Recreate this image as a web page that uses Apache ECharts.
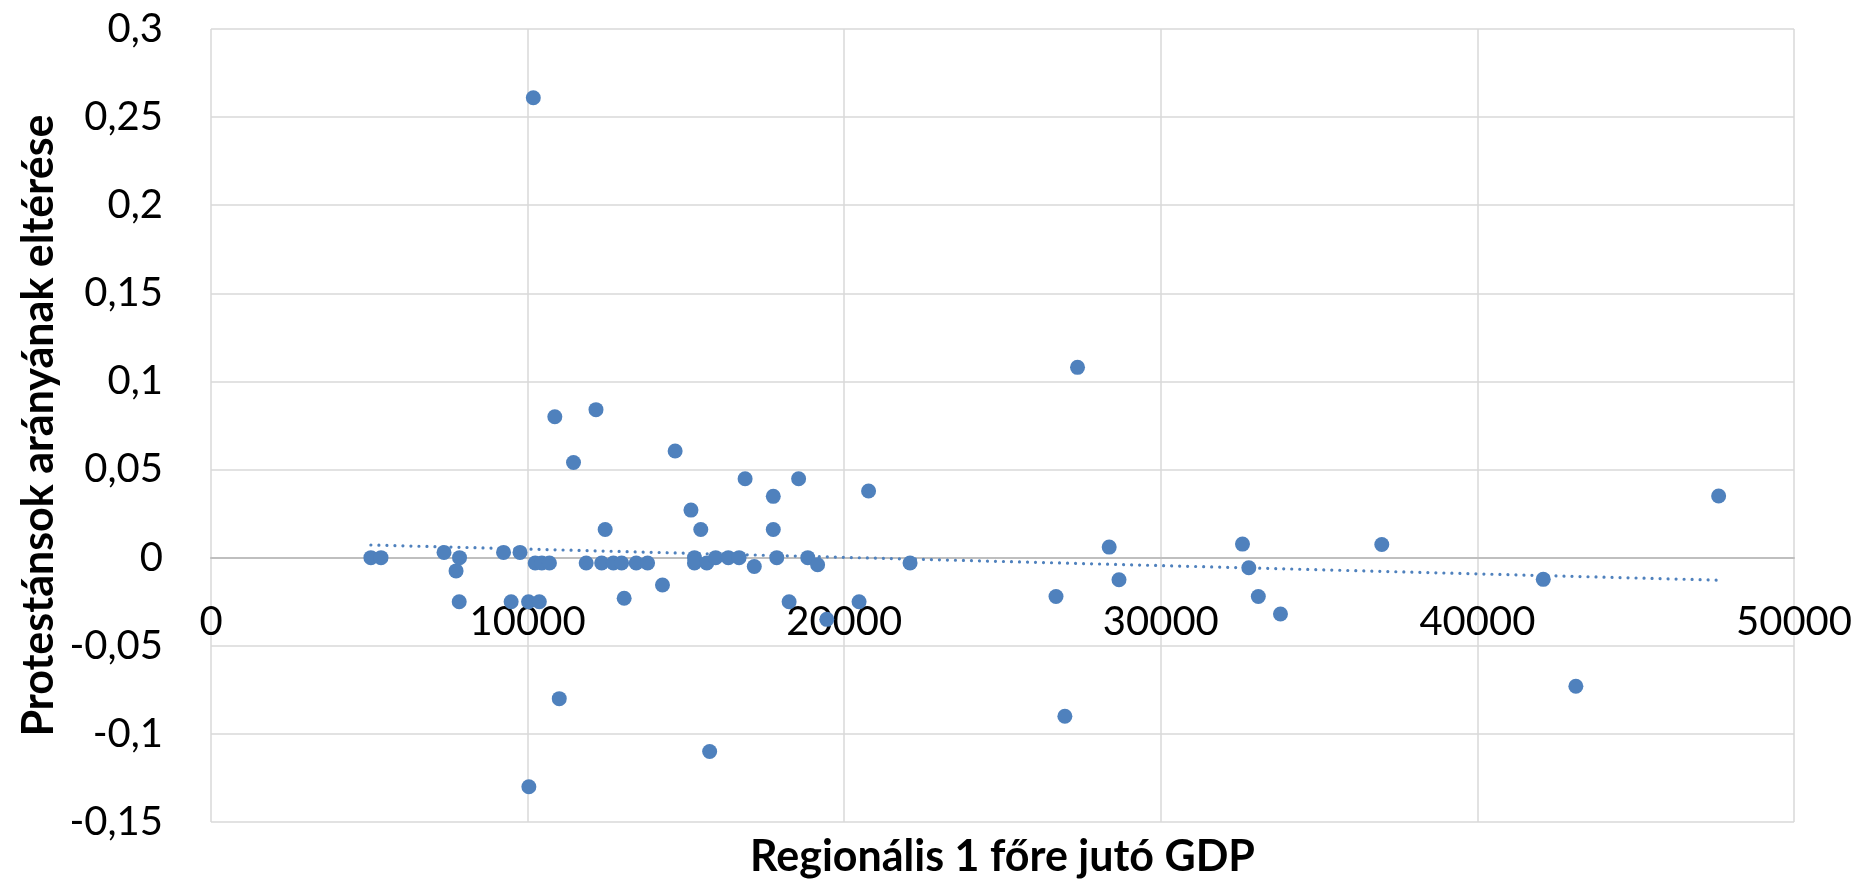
<!DOCTYPE html>
<html>
<head>
<meta charset="utf-8">
<script src="https://cdn.jsdelivr.net/npm/echarts@6/dist/echarts.min.js"></script>
<style>
html,body{margin:0;padding:0;background:#fff;}
#chart{width:1860px;height:880px;}
</style>
</head>
<body>
<div id="chart"></div>
<script>
// Regionális 1 főre jutó GDP (x)
const gdp = [
  5050, 5370, 7360, 7740, 7850, 7840, 9240, 9480, 9760, 10030,
  10040, 10180, 10240, 10370, 10450, 10690, 10860, 11000, 11450, 11850,
  12160, 12340, 12450, 12710, 12970, 13050, 13430, 13790, 14260, 14660,
  15160, 15270, 15270, 15470, 15660, 15750, 15940, 16340, 16680, 16870,
  17160, 17760, 17760, 17870, 18260, 18560, 18850, 19160, 19450, 20470,
  20770, 22080, 26690, 26970, 27370, 28370, 28680, 32580, 32780, 33080,
  33780, 36980, 42080, 43110, 47620
];
// Protestánsok arányának eltérése (y)
const diff = [
  0, 0, 0.003, -0.0075, 0, -0.025, 0.003, -0.025, 0.003, -0.025,
  -0.130, 0.261, -0.003, -0.025, -0.003, -0.003, 0.080, -0.080, 0.054, -0.003,
  0.084, -0.003, 0.016, -0.003, -0.003, -0.023, -0.003, -0.003, -0.0155, 0.0605,
  0.027, 0, -0.003, 0.016, -0.003, -0.110, 0, 0, 0, 0.0448,
  -0.005, 0.0348, 0.016, 0, -0.025, 0.0448, 0, -0.004, -0.035, -0.025,
  0.0378, -0.003, -0.022, -0.090, 0.108, 0.006, -0.0125, 0.0077, -0.0057, -0.022,
  -0.032, 0.0075, -0.0123, -0.073, 0.035
];
const xAxisRange = [0, 50000];
const xStep = 10000;
const yAxisRange = [-0.15, 0.3];
const yStep = 0.05;
const xTitle = 'Regionális 1 főre jutó GDP';
const yTitle = 'Protestánsok arányának eltérése';

const points = gdp.map((x, i) => [x, diff[i]]);

// linear trend line (least squares) over the data
const n = gdp.length;
const mx = gdp.reduce((a, b) => a + b, 0) / n;
const my = diff.reduce((a, b) => a + b, 0) / n;
let sxy = 0, sxx = 0;
for (let i = 0; i < n; i++) { sxy += (gdp[i] - mx) * (diff[i] - my); sxx += (gdp[i] - mx) * (gdp[i] - mx); }
const slope = sxy / sxx;
const icpt = my - slope * mx;
const xMin = Math.min(...gdp), xMax = Math.max(...gdp);
const trend = [[xMin, icpt + slope * xMin], [xMax, icpt + slope * xMax]];

const blue = '#4f81bd';
const fontFam = 'Lato, "Open Sans", sans-serif';

const W = 1860, H = 880;
const G = {left: 211, right: 66, top: 29, bottom: 58};
const plotH = H - G.top - G.bottom;
// move the category axis (line + labels) up to the y = 0 crossing, as in the source
const zeroOffset = -plotH * (0 - yAxisRange[0]) / (yAxisRange[1] - yAxisRange[0]);

const chart = echarts.init(document.getElementById('chart'), null, {renderer: 'canvas'});
chart.setOption({
  animation: false,
  backgroundColor: '#ffffff',
  grid: Object.assign({containLabel: false, outerBoundsMode: 'none'}, G),
  xAxis: {
    type: 'value',
    position: 'bottom',
    offset: zeroOffset,
    min: xAxisRange[0], max: xAxisRange[1], interval: xStep,
    axisLine: {show: true, onZero: false, lineStyle: {color: '#bfbfbf', width: 2}},
    axisTick: {show: false},
    axisLabel: {color: '#000', fontSize: 40, fontFamily: fontFam, margin: 44,
      formatter: v => String(v)},
    splitLine: {show: true, lineStyle: {color: '#d9d9d9', width: 1.5}}
  },
  yAxis: {
    type: 'value',
    min: yAxisRange[0], max: yAxisRange[1], interval: yStep,
    axisLine: {show: false},
    axisTick: {show: false},
    axisLabel: {
      color: '#000', fontSize: 40, fontFamily: fontFam, margin: 48,
      formatter: v => {
        const r = Math.round(v * 100) / 100;
        return r === 0 ? '0' : String(r).replace('.', ',');
      }
    },
    splitLine: {show: true, lineStyle: {color: '#d9d9d9', width: 1.5}}
  },
  graphic: [
    {
      type: 'text', x: (G.left + W - G.right) / 2, y: 857, silent: true,
      style: {text: xTitle, fill: '#000', font: 'bold 43px ' + fontFam, align: 'center', verticalAlign: 'middle'}
    },
    {
      type: 'text', x: 39, y: (G.top + H - G.bottom) / 2, rotation: Math.PI / 2, silent: true,
      style: {text: yTitle, fill: '#000', font: 'bold 43px ' + fontFam, align: 'center', verticalAlign: 'middle'}
    }
  ],
  series: [
    {
      type: 'line', data: trend, showSymbol: false, symbol: 'none', z: 2,
      lineStyle: {color: blue, width: 3.2, type: [0.01, 8], cap: 'round'}
    },
    {
      type: 'scatter', data: points, symbol: 'circle', symbolSize: 15, z: 3,
      itemStyle: {color: blue, opacity: 1}
    }
  ]
});
</script>
</body>
</html>
